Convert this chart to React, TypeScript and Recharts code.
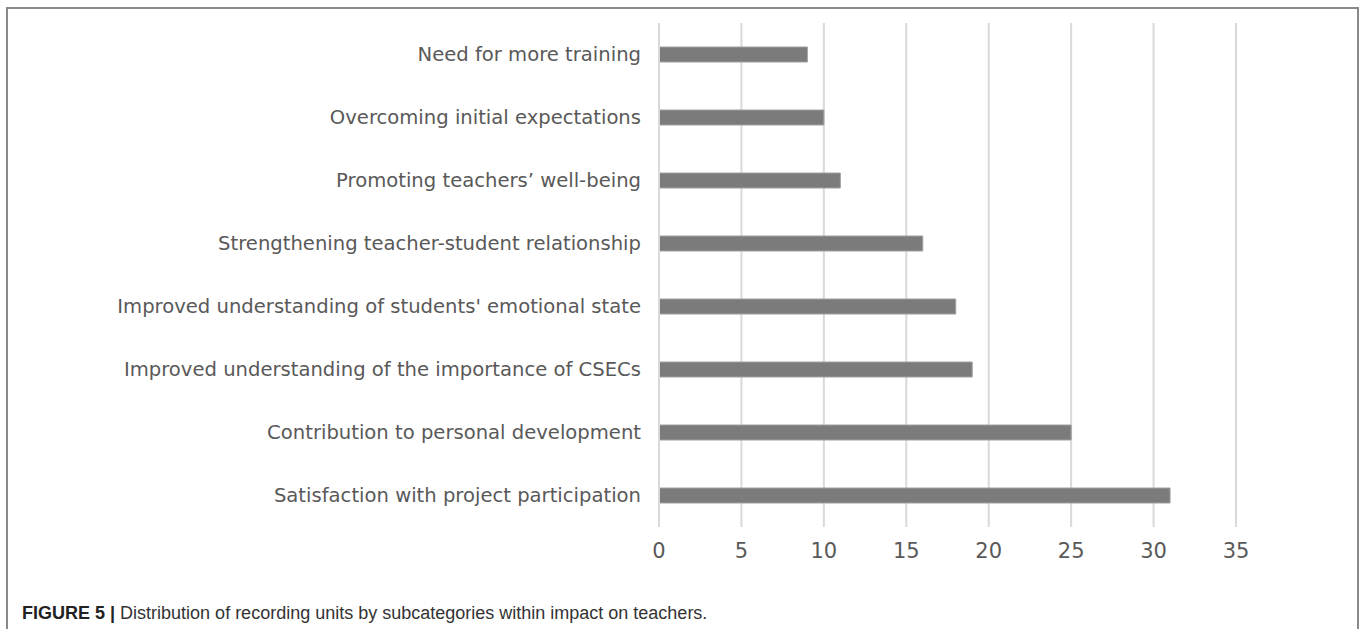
import React from "react";
import { BarChart, Bar, XAxis, YAxis, CartesianGrid } from "recharts";

const categories = [
  "Need for more training",
  "Overcoming initial expectations",
  "Promoting teachers\u2019 well-being",
  "Strengthening teacher-student relationship",
  "Improved understanding of students' emotional state",
  "Improved understanding of the importance of CSECs",
  "Contribution to personal development",
  "Satisfaction with project participation",
];
const values = [9, 10, 11, 16, 18, 19, 25, 31];
const xTicks = [0, 5, 10, 15, 20, 25, 30, 35];

const data = categories.map((name, i) => ({ name, value: values[i] }));

const LABEL_FONT = "'DejaVu Sans', sans-serif";

export default function App() {
  return (
    <div
      style={{
        position: "absolute",
        left: 0,
        top: 0,
        width: 1360,
        height: 629,
        overflow: "hidden",
        background: "#fff",
      }}
    >
      <div
        style={{
          position: "absolute",
          left: 6,
          top: 7,
          width: 1349,
          height: 640,
          borderTop: "2px solid #8a8a8a",
          borderLeft: "2px solid #8a8a8a",
          borderRight: "2px solid #8a8a8a",
        }}
      />
      <div style={{ position: "absolute", left: 0, top: 0 }}>
        <BarChart
          width={1360}
          height={575}
          data={data}
          layout="vertical"
          margin={{ top: 23, right: 124, bottom: 0, left: 0 }}
          barSize={15}
        >
          <CartesianGrid
            vertical={true}
            horizontal={false}
            stroke="#d9d9d9"
            strokeWidth={2}
          />
          <XAxis
            type="number"
            domain={[0, 35]}
            ticks={xTicks}
            axisLine={false}
            tickLine={false}
            tickSize={0}
            tickMargin={16}
            height={48}
            tick={{ fill: "#595959", fontSize: 21, fontFamily: LABEL_FONT }}
          />
          <YAxis
            type="category"
            dataKey="name"
            width={659}
            axisLine={{ stroke: "#d9d9d9", strokeWidth: 2 }}
            tickLine={false}
            tickSize={0}
            tickMargin={18}
            interval={0}
            tick={{ fill: "#595959", fontSize: 19.6, fontFamily: LABEL_FONT }}
          />
          <Bar
            dataKey="value"
            fill="#7b7b7b"
            stroke="#a0a0a0"
            strokeWidth={1}
            isAnimationActive={false}
          />
        </BarChart>
      </div>
      <div
        style={{
          position: "absolute",
          left: 22,
          top: 603,
          fontFamily: "'Liberation Sans', Arial, sans-serif",
          fontSize: 18,
          color: "#333",
          whiteSpace: "nowrap",
        }}
      >
        <span style={{ fontWeight: "bold", color: "#222" }}>FIGURE 5 |</span>{" "}
        Distribution of recording units by subcategories within impact on teachers.
      </div>
    </div>
  );
}
